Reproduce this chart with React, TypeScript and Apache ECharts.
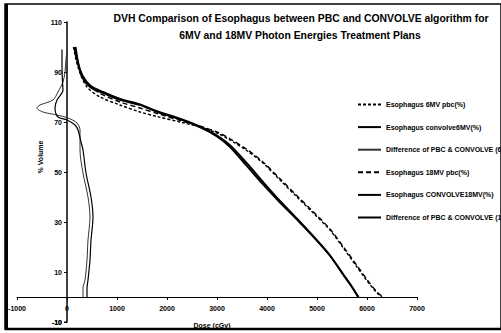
import React, { useEffect, useRef } from "react";
import * as echarts from "echarts";

// Dose (cGy) / volume (%) pairs for the esophagus DVHs
const pbc6MV: [number, number][] = [
  [130, 100], [180, 95], [260, 89.6], [400, 84], [660, 80], [1060, 76.8], [1460, 74],
  [1800, 72.2], [2300, 69.8], [2700, 67.8], [3000, 65.6], [3260, 62.8], [3600, 58.5],
  [3920, 53.6], [4250, 47], [4600, 40], [4930, 33.5], [5260, 26.8], [5530, 19.5],
  [5800, 12], [6000, 6.5], [6200, 1.6], [6300, 0],
];
const convolve6MV: [number, number][] = [
  [160, 100], [220, 93.6], [300, 88], [460, 84], [720, 81.6], [1060, 78.8], [1460, 76.8],
  [1800, 74], [2300, 70.8], [2700, 67.5], [3000, 64.2], [3260, 60], [3600, 52.3],
  [3920, 45], [4250, 38], [4600, 31], [4930, 24], [5260, 16.5], [5540, 8.5], [5700, 4],
  [5820, 0],
];
const diff6MV: [number, number][] = [
  [0, 99], [-20, 95], [-40, 90], [-80, 86], [-180, 82], [-280, 78.8], [-540, 76.8],
  [-600, 75.6], [-480, 74], [-200, 72.8], [20, 71.6], [200, 69.6], [260, 66.8],
  [260, 58.8], [320, 49.6], [420, 40], [460, 32], [420, 22.8], [400, 14.8], [360, 6.8],
  [320, 3.6], [320, 0],
];
const pbc18MV: [number, number][] = [
  [140, 100], [190, 95], [270, 90.5], [400, 85.5], [660, 81.5], [1060, 78], [1460, 75.6],
  [1800, 73.4], [2300, 70.4], [2700, 68.1], [3000, 66], [3260, 63.3], [3600, 59],
  [3920, 54], [4250, 47.5], [4600, 40.5], [4930, 34], [5260, 27.2], [5530, 20],
  [5800, 12.6], [6000, 7], [6200, 2], [6320, 0],
];
const convolve18MV: [number, number][] = [
  [170, 100], [230, 93], [310, 88.5], [470, 84.5], [720, 82], [1060, 79.2], [1460, 77],
  [1800, 74.3], [2300, 71], [2700, 67.8], [3000, 64.6], [3260, 60.7], [3600, 53.4],
  [3920, 46], [4250, 38.6], [4600, 31.3], [4930, 24.2], [5260, 16.6], [5540, 8.6],
  [5700, 4], [5830, 0],
];
const diff18MV: [number, number][] = [
  [-100, 99], [-100, 92], [-90, 86], [-80, 82.8], [-200, 78.8], [-240, 75.6],
  [-180, 72], [0, 70.8], [160, 68.8], [220, 66.8], [280, 62], [320, 58.8], [380, 49.6],
  [480, 40], [520, 32], [480, 22.8], [460, 14.8], [420, 6.8], [400, 3.6], [400, 0],
];

// Axis tick values
const doseTicks = [-1000, 0, 1000, 2000, 3000, 4000, 5000, 6000, 7000];
const volumeTicks = [-10, 10, 30, 50, 70, 90, 110];

const seriesNames = [
  "Esophagus 6MV pbc(%)",
  "Esophagus convolve6MV(%)",
  "Difference of PBC & CONVOLVE (6MV)",
  "Esophagus 18MV pbc(%)",
  "Esophagus CONVOLVE18MV(%)",
  "Difference of PBC & CONVOLVE (18MV)",
];

const titleLines = [
  "DVH Comparison of Esophagus between PBC and CONVOLVE algorithm for",
  "6MV and 18MV Photon Energies Treatment Plans",
];

const FONT = "'Liberation Sans', Arial, sans-serif";

export default function App() {
  const ref = useRef<HTMLDivElement>(null);

  useEffect(() => {
    if (!ref.current) return;
    const chart = echarts.init(ref.current, null, { renderer: "svg" });

    const line = (
      name: string,
      data: [number, number][],
      width: number,
      color: string,
      type: any = "solid"
    ) => ({
      name,
      type: "line",
      data,
      symbol: "none",
      smooth: 0.3,
      lineStyle: { width, color, type },
      itemStyle: { color },
    });

    const labelStyle = {
      fontSize: 7,
      fontWeight: "bold",
      fontFamily: FONT,
      color: "#000",
    };

    chart.setOption({
      animation: false,
      backgroundColor: "#fff",
      grid: { left: 17, right: 84, top: 22, bottom: 11, containLabel: false },
      xAxis: {
        type: "value",
        min: doseTicks[0],
        max: doseTicks[doseTicks.length - 1],
        interval: 1000,
        // axis sits at 0 % volume, 25px above the grid bottom
        offset: -25,
        splitLine: { show: false },
        axisLine: { onZero: false, lineStyle: { color: "#000", width: 1 } },
        axisTick: { show: true, length: 3, customValues: doseTicks, lineStyle: { color: "#000" } },
        axisLabel: {
          ...labelStyle,
          margin: 8,
          customValues: doseTicks,
          hideOverlap: false,
          formatter: (v: number) => String(v),
        },
      },
      yAxis: {
        type: "value",
        min: volumeTicks[0],
        max: volumeTicks[volumeTicks.length - 1],
        interval: 20,
        // axis sits at 0 cGy, 50px right of the grid's left edge
        offset: -50,
        splitLine: { show: false },
        axisLine: { onZero: false, lineStyle: { color: "#000", width: 1.5 } },
        axisTick: { show: true, length: 3, customValues: volumeTicks, lineStyle: { color: "#000" } },
        axisLabel: {
          ...labelStyle,
          margin: 5,
          customValues: volumeTicks,
          hideOverlap: false,
          formatter: (v: number) => String(v),
        },
      },
      legend: {
        orient: "vertical",
        left: 357,
        top: 101,
        padding: 0,
        itemWidth: 23,
        itemHeight: 8,
        itemGap: 15.6,
        data: seriesNames,
        itemStyle: { opacity: 0, borderWidth: 0 },
        textStyle: { ...labelStyle },
      },
      series: [
        line(seriesNames[0], pbc6MV, 1.4, "#000", [3, 2]),
        line(seriesNames[1], convolve6MV, 1.8, "#000"),
        line(seriesNames[2], diff6MV, 1, "#333"),
        line(seriesNames[3], pbc18MV, 1.4, "#000", [5, 3]),
        line(seriesNames[4], convolve18MV, 2, "#000"),
        line(seriesNames[5], diff18MV, 1.2, "#000"),
      ],
    });

    // The lowest volume label sits in the corner under the dose axis; place it
    // from the axis scale so it lines up with the other volume labels.
    const minPt = chart.convertToPixel({ xAxisIndex: 0, yAxisIndex: 0 }, [0, volumeTicks[0]]) as number[];

    chart.setOption({
      graphic: [
        {
          type: "rect",
          shape: { x: 5, y: 4, width: 496, height: 325 },
          style: { fill: "none", stroke: "#000", lineWidth: 1.5 },
          silent: true,
        },
        {
          type: "line",
          shape: { x1: 6.5, y1: 4, x2: 6.5, y2: 330 },
          style: { stroke: "#000", lineWidth: 3 },
          silent: true,
        },
        {
          type: "line",
          shape: { x1: 5, y1: 329, x2: 501, y2: 329 },
          style: { stroke: "#000", lineWidth: 2.5 },
          silent: true,
        },
        {
          type: "line",
          shape: { x1: minPt[0] - 3, y1: minPt[1], x2: minPt[0], y2: minPt[1] },
          style: { stroke: "#000", lineWidth: 1 },
          silent: true,
        },
        {
          type: "text",
          x: minPt[0] - 5,
          y: minPt[1],
          style: {
            text: String(volumeTicks[0]),
            textAlign: "right",
            textVerticalAlign: "middle",
            font: `bold 7px ${FONT}`,
            fill: "#000",
          },
        },
        {
          type: "text",
          x: 301,
          y: 18,
          style: {
            text: titleLines[0],
            textAlign: "center",
            textVerticalAlign: "middle",
            font: `bold 10.4px ${FONT}`,
            fill: "#000",
          },
        },
        {
          type: "text",
          x: 300,
          y: 35,
          style: {
            text: titleLines[1],
            textAlign: "center",
            textVerticalAlign: "middle",
            font: `bold 10.4px ${FONT}`,
            fill: "#000",
          },
        },
        {
          type: "text",
          x: 40,
          y: 157,
          rotation: Math.PI / 2,
          style: {
            text: "% Volume",
            textAlign: "center",
            textVerticalAlign: "middle",
            font: `bold 7px ${FONT}`,
            fill: "#000",
          },
        },
        {
          type: "text",
          x: 212,
          y: 325,
          style: {
            text: "Dose (cGy)",
            textAlign: "center",
            textVerticalAlign: "middle",
            font: `bold 7px ${FONT}`,
            fill: "#000",
          },
        },
      ],
    });

    return () => chart.dispose();
  }, []);

  return (
    <div
      ref={ref}
      style={{ position: "fixed", left: 0, top: 0, width: 501, height: 333 }}
    />
  );
}
